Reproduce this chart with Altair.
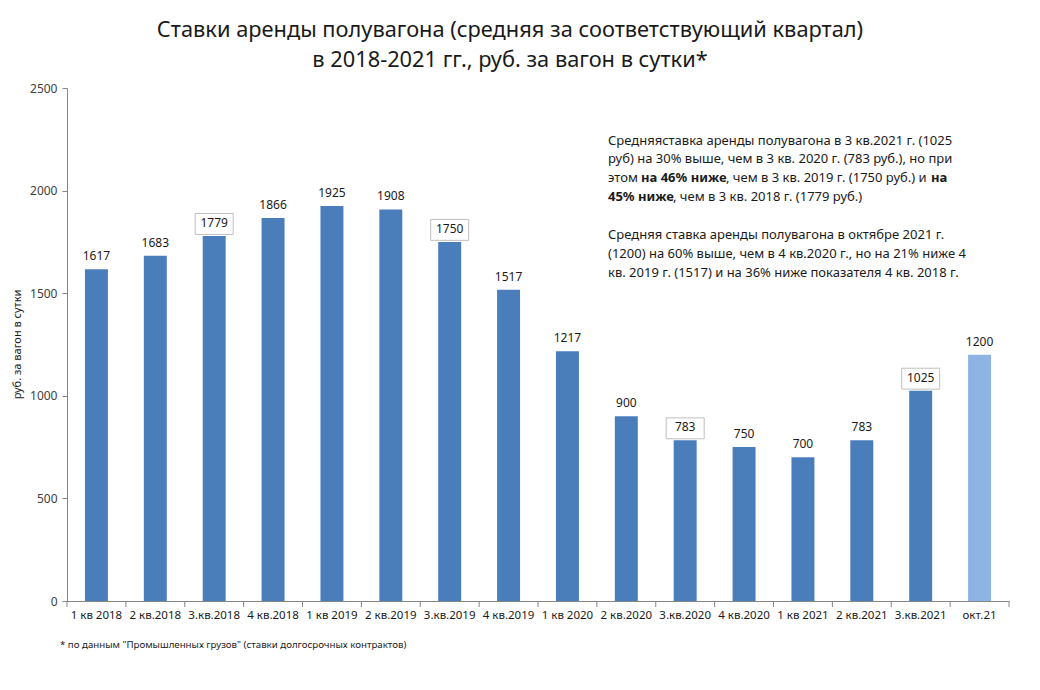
import altair as alt
import pandas as pd

cats = ["1 кв 2018", "2 кв.2018", "3.кв.2018", "4 кв.2018", "1 кв 2019", "2 кв.2019",
        "3.кв.2019", "4 кв.2019", "1 кв 2020", "2 кв.2020", "3.кв.2020", "4 кв.2020",
        "1 кв 2021", "2 кв.2021", "3.кв.2021", "окт.21"]
vals = [1617, 1683, 1779, 1866, 1925, 1908, 1750, 1517, 1217, 900, 783, 750, 700, 783, 1025, 1200]
boxed = [False, False, True, False, False, False, True, False, False, False, True, False,
         False, False, True, False]
kind = ["кв"] * 15 + ["мес"]

title_lines = ["Ставки аренды полувагона (средняя за соответствующий квартал)",
               "в 2018-2021 гг., руб. за вагон в сутки*"]
y_title = "руб. за вагон в сутки"
footnote = '*  по данным "Промышленных грузов" (ставки долгосрочных контрактов)'

# annotation segments: (text, bold, x_px_rel, y_px_rel)
notes = [
    ("Средняяставка аренды полувагона в 3 кв.2021 г. (1025", False, 541, 53),
    ("руб) на 30% выше, чем в 3 кв. 2020 г. (783 руб.), но при", False, 541, 71),
    ("этом", False, 541, 90),
    ("на 46% ниже", True, 574, 90),
    (", чем в 3 кв. 2019 г. (1750 руб.) и", False, 659, 90),
    ("на", True, 864, 90),
    ("45% ниже", True, 541, 109),
    (", чем в 3 кв. 2018 г. (1779 руб.)", False, 606, 109),
    ("Средняя ставка аренды полувагона в октябре 2021 г.", False, 541, 147),
    ("(1200) на 60% выше, чем в 4 кв.2020 г., но на 21% ниже 4", False, 541, 166),
    ("кв. 2019 г. (1517) и на 36% ниже показателя 4 кв. 2018 г.", False, 541, 185),
]

df = pd.DataFrame({"cat": cats, "val": vals, "boxed": boxed, "kind": kind})
FONT = "Noto Sans"

xenc = alt.X("cat:N", sort=cats,
             scale=alt.Scale(paddingInner=0, paddingOuter=0),
             axis=alt.Axis(title=None, labelAngle=0, ticks=False, domainColor="#868686",
                           labelFont=FONT, labelFontSize=11.5, labelColor="#1a1a1a",
                           labelPadding=8))
yenc = alt.Y("val:Q", scale=alt.Scale(domain=[0, 2500], nice=False),
             axis=alt.Axis(title=y_title, values=[0, 500, 1000, 1500, 2000, 2500], grid=False,
                           format="d",
                           domainColor="#868686", tickColor="#868686", tickSize=5,
                           labelFont=FONT, labelFontSize=12, labelColor="#404040",
                           labelPadding=5, titleFont=FONT, titleFontSize=11,
                           titleFontWeight="normal", titleColor="#1a1a1a",
                           titleX=-50, titleY=256, titleAngle=-90,
                           titleAlign="center", titleBaseline="middle"))

bars = alt.Chart(df).mark_bar(width=alt.RelativeBandSize(0.39)).encode(
    x=xenc, y=yenc,
    color=alt.Color("kind:N", scale=alt.Scale(domain=["кв", "мес"], range=["#4a7ebb", "#8eb4e3"]),
                    legend=None))

labels = alt.Chart(df).mark_text(font=FONT, fontSize=12, color="#1a1a1a",
                                 baseline="middle", dy=-13).encode(
    x=alt.X("cat:N", sort=cats), y="val:Q", text="val:Q")

box_path = "M-1,-0.55L1,-0.55L1,0.55L-1,0.55Z"
boxes = alt.Chart(df).transform_filter("datum.boxed").mark_point(
    shape=box_path, size=38 * 38, filled=False, stroke="#bfbfbf", strokeWidth=1,
    opacity=1, yOffset=-12).encode(x=alt.X("cat:N", sort=cats), y="val:Q")

ticks = alt.Chart(df).mark_rule(color="#868686").encode(
    x=alt.X("cat:N", sort=cats, bandPosition=0),
    y=alt.value(513), y2=alt.value(519))
end_tick = alt.Chart(df).transform_filter(alt.datum.cat == cats[-1]).mark_rule(
    color="#868686").encode(
    x=alt.X("cat:N", sort=cats, bandPosition=1),
    y=alt.value(513), y2=alt.value(519))

t_df = pd.DataFrame({"t": title_lines, "yy": [-58, -28]})
title = alt.Chart(t_df).mark_text(font=FONT, fontSize=21.8, color="#1a1a1a",
                                  align="center", baseline="middle").encode(
    x=alt.value(443), y=alt.Y("yy:Q", scale=None), text="t:N")

n_df = pd.DataFrame(notes, columns=["t", "bold", "xx", "yy"])
note_normal = alt.Chart(n_df).transform_filter("!datum.bold").mark_text(
    font=FONT, fontSize=13, color="#1a1a1a", align="left", baseline="middle").encode(
    x=alt.X("xx:Q", scale=None), y=alt.Y("yy:Q", scale=None), text="t:N")
note_bold = alt.Chart(n_df).transform_filter("datum.bold").mark_text(
    font=FONT, fontSize=13, fontWeight="bold", color="#1a1a1a", align="left",
    baseline="middle").encode(
    x=alt.X("xx:Q", scale=None), y=alt.Y("yy:Q", scale=None), text="t:N")

f_df = pd.DataFrame({"t": [footnote]})
foot = alt.Chart(f_df).mark_text(font=FONT, fontSize=9.7, color="#1a1a1a", align="left",
                                 baseline="middle").encode(
    x=alt.value(-7), y=alt.value(557), text="t:N")

chart = alt.layer(bars, labels, boxes, ticks, end_tick, title, note_normal, note_bold, foot).properties(
    width=942, height=513,
    background="white",
    autosize=alt.AutoSizeParams(type="none"),
    padding={"left": 59, "top": 80, "right": 15, "bottom": 66},
).configure_view(strokeWidth=0, stroke=None)

chart.save("out.html", embed_options={"renderer": "svg", "actions": False})
